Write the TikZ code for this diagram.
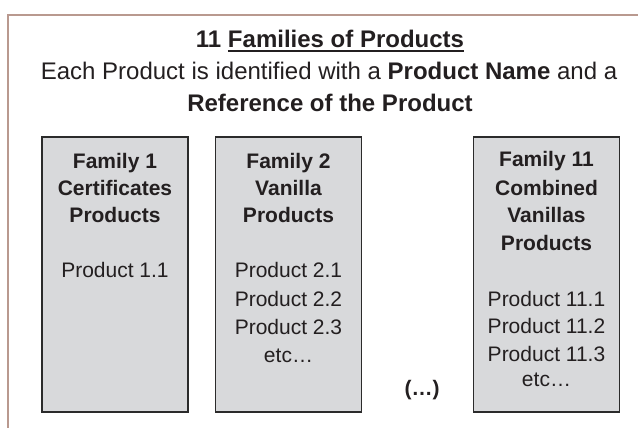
\documentclass[tikz,border=0pt]{standalone}
\usepackage{fontspec}
\setmainfont{Liberation Sans}
\definecolor{txt}{HTML}{231F20}
\definecolor{boxfill}{HTML}{D8D9DB}
\definecolor{boxline}{HTML}{2B2B2B}
\definecolor{frame}{HTML}{B9998F}
\newcommand\myul[1]{\setbox0\hbox{#1}\rlap{\rule[-4.2pt]{\wd0}{1.8pt}}\box0}
\tikzset{
  fambox/.style={draw=boxline, line width=1.8pt, fill=boxfill, minimum width=146pt, minimum height=275pt, inner sep=0pt},
  headtxt/.style={anchor=base, inner sep=0pt, text=txt, font=\fontsize{24pt}{28pt}\selectfont},
  famtxt/.style={anchor=base, inner sep=0pt, text=txt, font=\fontsize{21pt}{25pt}\selectfont\bfseries},
  prodtxt/.style={anchor=base, inner sep=0pt, text=txt, font=\fontsize{21pt}{25pt}\selectfont},
  framestyle/.style={draw=frame, line width=2pt}
}
\begin{document}
\begin{tikzpicture}[x=1pt, y=-1pt]
\useasboundingbox (0,0) rectangle (638,428);
% outer frame
\coordinate (fa) at (8,428);
\coordinate (fb) at (8,15.5);
\coordinate (fc) at (638,15.5);
\draw[framestyle] (fa) -- (fb) -- (fc);
% headings
\node[headtxt] (t1) at (330,48) {\textbf{11 \myul{Families of Products}}};
\node[headtxt] (t2) at (329,80) {Each Product is identified with a \textbf{Product Name} and a};
\node[headtxt] (t3) at (330,112) {\textbf{Reference of the Product}};
% boxes
\node[fambox] (b1) at (115,274.5) {};
\node[fambox] (b2) at (288.5,274.5) {};
\node[fambox] (b3) at (546.5,274.5) {};
% box 1
\node[famtxt] (b1h1) at (115,168) {Family 1};
\node[famtxt] (b1h2) at (115,195) {Certificates};
\node[famtxt] (b1h3) at (115,222) {Products};
\node[prodtxt] (b1p1) at (115,277) {Product 1.1};
% box 2
\node[famtxt] (b2h1) at (288.5,168) {Family 2};
\node[famtxt] (b2h2) at (288.5,195) {Vanilla};
\node[famtxt] (b2h3) at (288.5,222) {Products};
\node[prodtxt] (b2p1) at (288.5,277) {Product 2.1};
\node[prodtxt] (b2p2) at (288.5,306) {Product 2.2};
\node[prodtxt] (b2p3) at (288.5,334) {Product 2.3};
\node[prodtxt] (b2p4) at (288.5,362) {etc…};
% box 3
\node[famtxt] (b3h1) at (546.5,167) {Family 11};
\node[famtxt] (b3h2) at (546.5,195) {Combined};
\node[famtxt] (b3h3) at (546.5,222) {Vanillas};
\node[famtxt] (b3h4) at (546.5,250) {Products};
\node[prodtxt] (b3p1) at (546.5,306) {Product 11.1};
\node[prodtxt] (b3p2) at (546.5,333) {Product 11.2};
\node[prodtxt] (b3p3) at (546.5,361) {Product 11.3};
\node[prodtxt] (b3p4) at (546.5,386) {etc…};
% ellipsis
\node[famtxt] (dots) at (422,395) {(…)};
\end{tikzpicture}
\end{document}
